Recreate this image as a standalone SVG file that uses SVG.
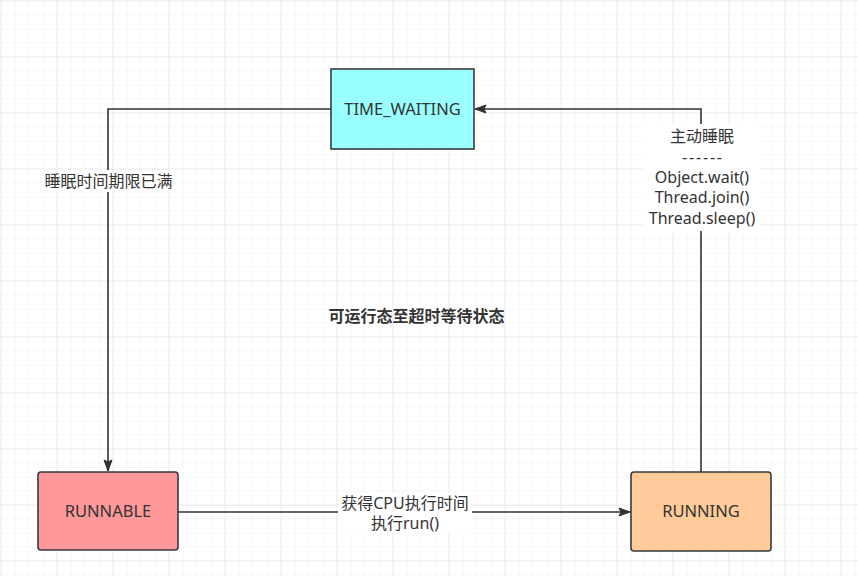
<svg xmlns="http://www.w3.org/2000/svg" width="858" height="576" viewBox="0 0 858 576">
<style>
.node rect{stroke:#36393d;stroke-width:1.6}
.lbl{font-family:"Noto Sans","Noto Sans CJK SC",sans-serif;font-size:16px;fill:#333333;text-anchor:middle}
.node text{font-size:16.5px}
.title{font-weight:bold}
.edge{fill:none;stroke:#333333;stroke-width:1.6}
.bg{fill:#ffffff}
</style>
<defs>
<pattern id="minor" width="14" height="14" patternUnits="userSpaceOnUse" x="0.5" y="0.5">
<path d="M0 0H14M0 0V14" fill="none" stroke="#f0f0f0" stroke-width="1"/>
</pattern>
<pattern id="major" width="56" height="56" patternUnits="userSpaceOnUse" x="0.5" y="0.5">
<path d="M0 0H56M0 0V56" fill="none" stroke="#e2e2e2" stroke-width="1"/>
</pattern>
<marker id="arr" markerUnits="userSpaceOnUse" markerWidth="14" markerHeight="10" refX="12" refY="5" orient="auto">
<path d="M1 1L12 5L1 9L3 5Z" fill="#333333" stroke="#333333" stroke-width="1"/>
</marker>
</defs>
<rect width="858" height="576" fill="#ffffff"/>
<rect width="858" height="576" fill="url(#minor)"/>
<rect width="858" height="576" fill="url(#major)"/>
<g id="connectors">
<path class="edge" d="M331 109H108V471" marker-end="url(#arr)"/>
<path class="edge" d="M701 472V109H475" marker-end="url(#arr)"/>
<path class="edge" d="M178 512H630" marker-end="url(#arr)"/>
<rect class="bg" x="43" y="170" width="131" height="22"/>
<text class="lbl" x="108.5" y="187">睡眠时间期限已满</text>
<rect class="bg" x="643" y="124" width="117" height="107"/>
<text class="lbl" x="702" y="142">主动睡眠</text>
<text class="lbl" x="702" y="163" textLength="40" lengthAdjust="spacing">------</text>
<text class="lbl" x="702" y="183">Object.wait()</text>
<text class="lbl" x="702" y="203">Thread.join()</text>
<text class="lbl" x="702" y="224">Thread.sleep()</text>
<rect class="bg" x="338" y="493" width="134" height="40"/>
<text class="lbl" x="405" y="509">获得CPU执行时间</text>
<text class="lbl" x="405" y="529">执行run()</text>
</g>
<g id="time_waiting" class="node">
<rect x="331" y="69" width="143" height="80" fill="#99ffff"/>
<text class="lbl" x="402.5" y="115">TIME_WAITING</text>
</g>
<g id="runnable" class="node">
<rect x="38" y="472" width="140" height="78" rx="3" fill="#ff9999"/>
<text class="lbl" x="108" y="517">RUNNABLE</text>
</g>
<g id="running" class="node">
<rect x="631" y="472" width="140" height="79" rx="3" fill="#ffcc99"/>
<text class="lbl" x="701" y="517">RUNNING</text>
</g>
<g id="title">
<text class="lbl title" x="416.5" y="322">可运行态至超时等待状态</text>
</g>
</svg>
